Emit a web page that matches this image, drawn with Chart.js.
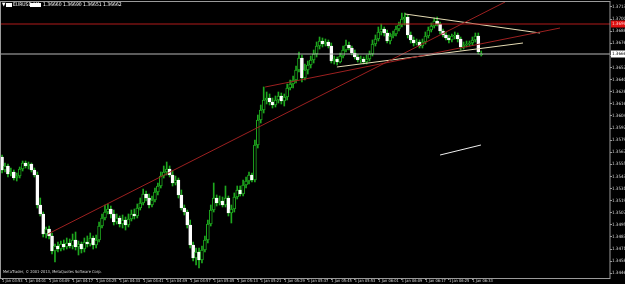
<!DOCTYPE html>
<html>
<head>
<meta charset="utf-8">
<script src="https://cdn.jsdelivr.net/npm/chart.js@4/dist/chart.umd.min.js"></script>
<style>
  html, body { margin: 0; padding: 0; background: #000; }
  #wrap { width: 625px; height: 284px; }
</style>
</head>
<body>
<div id="wrap"><canvas id="c" width="625" height="284"></canvas></div>
<script>
// ---------- DATA ----------
const SYMBOL = "EURUSD,M1";
const HEADER_QUOTES = "1.36660 1.36690 1.36651 1.36662";
const COPYRIGHT = "MetaTrader, \u00a9 2001-2013, MetaQuotes Software Corp.";

// one candle per minute, index 0 = first bar on the left
const OPEN = [
  1.3563,1.3550,1.3554,1.3546,1.3548,1.3542,1.3544,1.3551,1.3557,1.3554,
  1.3556,1.3550,1.3545,1.3515,1.3506,1.3486,1.3491,1.3484,1.3469,1.3474,
  1.3471,1.3476,1.3473,1.3477,1.3474,1.3480,1.3473,1.3476,1.3471,1.3478,
  1.3476,1.3482,1.3475,1.3480,1.3494,1.3502,1.3508,1.3511,1.3506,1.3498,
  1.3502,1.3496,1.3500,1.3495,1.3501,1.3506,1.3504,1.3512,1.3517,1.3526,
  1.3522,1.3515,1.3520,1.3528,1.3534,1.3544,1.3548,1.3551,1.3545,1.3537,
  1.3540,1.3525,1.3512,1.3508,1.3495,1.3475,1.3462,1.3468,1.3460,1.3470,
  1.3480,1.3496,1.3510,1.3522,1.3517,1.3519,1.3515,1.3522,1.3507,1.3511,
  1.3523,1.3530,1.3526,1.3535,1.3539,1.3545,1.3540,1.3575,1.3600,1.3610,
  1.3620,1.3622,1.3618,1.3615,1.3620,1.3624,1.3619,1.3623,1.3632,1.3636,
  1.3640,1.3650,1.3662,1.3642,1.3650,1.3655,1.3660,1.3666,1.3674,1.3679,
  1.3676,1.3678,1.3674,1.3659,1.3661,1.3658,1.3664,1.3670,1.3675,1.3672,
  1.3667,1.3663,1.3660,1.3661,1.3658,1.3661,1.3666,1.3676,1.3681,1.3688,
  1.3691,1.3687,1.3679,1.3684,1.3686,1.3691,1.3695,1.3701,1.3703,1.3685,
  1.3680,1.3677,1.3678,1.3674,1.3678,1.3684,1.3690,1.3694,1.3699,1.3696,
  1.3689,1.3685,1.3682,1.3680,1.3684,1.3685,1.3681,1.3673,1.3675,1.3676,
  1.3677,1.3680,1.3684,1.3665
];
const HIGH = [
  1.3565,1.3557,1.3556,1.3552,1.3550,1.3547,1.3553,1.3559,1.3559,1.3558,
  1.3557,1.3552,1.3548,1.3522,1.3508,1.3493,1.3494,1.3487,1.3476,1.3478,
  1.3479,1.3480,1.3482,1.3481,1.3486,1.3488,1.3479,1.3478,1.3482,1.3484,
  1.3487,1.3484,1.3485,1.3498,1.3506,1.3515,1.3516,1.3514,1.3510,1.3506,
  1.3504,1.3505,1.3503,1.3506,1.3510,1.3511,1.3516,1.3522,1.3531,1.3529,
  1.3526,1.3524,1.3532,1.3537,1.3548,1.3554,1.3558,1.3554,1.3549,1.3544,
  1.3542,1.3530,1.3515,1.3510,1.3500,1.3478,1.3472,1.3472,1.3474,1.3484,
  1.3500,1.3515,1.3537,1.3525,1.3524,1.3523,1.3534,1.3524,1.3515,1.3527,
  1.3534,1.3534,1.3540,1.3543,1.3548,1.3547,1.3580,1.3605,1.3615,1.3633,
  1.3628,1.3626,1.3622,1.3624,1.3628,1.3627,1.3626,1.3636,1.3640,1.3644,
  1.3654,1.3668,1.3665,1.3656,1.3659,1.3664,1.3670,1.3678,1.3683,1.3682,
  1.3681,1.3680,1.3677,1.3664,1.3663,1.3667,1.3674,1.3680,1.3678,1.3674,
  1.3670,1.3666,1.3664,1.3663,1.3665,1.3669,1.3680,1.3685,1.3693,1.3696,
  1.3693,1.3690,1.3687,1.3689,1.3694,1.3698,1.3707,1.3707,1.3705,1.3688,
  1.3683,1.3681,1.3680,1.3681,1.3688,1.3693,1.3697,1.3702,1.3703,1.3698,
  1.3691,1.3688,1.3685,1.3686,1.3688,1.3687,1.3683,1.3678,1.3679,1.3679,
  1.3683,1.3687,1.3687,1.3669
];
const LOW = [
  1.3547,1.3548,1.3543,1.3544,1.3540,1.3539,1.3542,1.3549,1.3552,1.3551,
  1.3548,1.3543,1.3512,1.3504,1.3483,1.3482,1.3481,1.3466,1.3458,1.3468,
  1.3469,1.3470,1.3471,1.3472,1.3471,1.3470,1.3465,1.3467,1.3468,1.3473,
  1.3474,1.3471,1.3472,1.3478,1.3492,1.3500,1.3506,1.3502,1.3495,1.3496,
  1.3493,1.3492,1.3490,1.3493,1.3499,1.3501,1.3502,1.3510,1.3515,1.3519,
  1.3512,1.3513,1.3518,1.3525,1.3532,1.3542,1.3545,1.3543,1.3534,1.3535,
  1.3522,1.3510,1.3505,1.3492,1.3472,1.3459,1.3455,1.3452,1.3457,1.3468,
  1.3477,1.3494,1.3508,1.3514,1.3515,1.3513,1.3513,1.3504,1.3497,1.3508,
  1.3521,1.3524,1.3524,1.3532,1.3536,1.3538,1.3538,1.3572,1.3597,1.3607,
  1.3616,1.3615,1.3612,1.3613,1.3617,1.3616,1.3614,1.3620,1.3630,1.3632,
  1.3637,1.3648,1.3638,1.3640,1.3646,1.3652,1.3657,1.3663,1.3671,1.3673,
  1.3674,1.3672,1.3657,1.3656,1.3655,1.3657,1.3662,1.3668,1.3670,1.3665,
  1.3661,1.3658,1.3657,1.3656,1.3656,1.3659,1.3664,1.3674,1.3679,1.3685,
  1.3684,1.3677,1.3676,1.3682,1.3684,1.3689,1.3693,1.3695,1.3682,1.3677,
  1.3674,1.3675,1.3672,1.3672,1.3676,1.3682,1.3688,1.3692,1.3694,1.3686,
  1.3683,1.3680,1.3677,1.3678,1.3681,1.3678,1.3670,1.3671,1.3673,1.3674,
  1.3675,1.3678,1.3666,1.3664
];
const CLOSE = [
  1.3550,1.3554,1.3546,1.3548,1.3542,1.3544,1.3551,1.3557,1.3554,1.3556,
  1.3550,1.3545,1.3515,1.3506,1.3486,1.3491,1.3484,1.3469,1.3474,1.3471,
  1.3476,1.3473,1.3477,1.3474,1.3480,1.3473,1.3476,1.3471,1.3478,1.3476,
  1.3482,1.3475,1.3480,1.3494,1.3502,1.3508,1.3511,1.3506,1.3498,1.3502,
  1.3496,1.3500,1.3495,1.3501,1.3506,1.3504,1.3512,1.3517,1.3526,1.3522,
  1.3515,1.3520,1.3528,1.3534,1.3544,1.3548,1.3551,1.3545,1.3537,1.3540,
  1.3525,1.3512,1.3508,1.3495,1.3475,1.3462,1.3468,1.3460,1.3470,1.3480,
  1.3496,1.3510,1.3522,1.3517,1.3519,1.3515,1.3522,1.3507,1.3511,1.3523,
  1.3530,1.3526,1.3535,1.3539,1.3545,1.3540,1.3575,1.3600,1.3610,1.3620,
  1.3622,1.3618,1.3615,1.3620,1.3624,1.3619,1.3623,1.3632,1.3636,1.3640,
  1.3650,1.3662,1.3642,1.3650,1.3655,1.3660,1.3666,1.3674,1.3679,1.3676,
  1.3678,1.3674,1.3659,1.3661,1.3658,1.3664,1.3670,1.3675,1.3672,1.3667,
  1.3663,1.3660,1.3661,1.3658,1.3661,1.3666,1.3676,1.3681,1.3688,1.3691,
  1.3687,1.3679,1.3684,1.3686,1.3691,1.3695,1.3701,1.3703,1.3685,1.3680,
  1.3677,1.3678,1.3674,1.3678,1.3684,1.3690,1.3694,1.3699,1.3696,1.3689,
  1.3685,1.3682,1.3680,1.3684,1.3685,1.3681,1.3673,1.3675,1.3676,1.3677,
  1.3680,1.3684,1.3668,1.3666
];

// time axis: label every 8 bars
const TIME_TICK_BARS = [0,8,16,24,32,40,48,56,64,72,80,88,96,104,112,120,128,136,144,152,160];
const TIME_TICKS = [
  "1 Jan 03:53","1 Jan 04:01","1 Jan 04:09","1 Jan 04:17","1 Jan 04:25","1 Jan 04:33",
  "1 Jan 04:41","1 Jan 04:49","1 Jan 04:57","1 Jan 05:05","1 Jan 05:13","1 Jan 05:21",
  "1 Jan 05:29","1 Jan 05:37","1 Jan 05:45","1 Jan 05:53","1 Jan 06:01","1 Jan 06:09",
  "1 Jan 06:17","1 Jan 06:25","1 Jan 06:33"
];
const PRICE_TICKS = [
  1.37130,1.37009,1.36888,1.36767,1.36646,1.36525,1.36404,1.36283,1.36162,1.36041,
  1.35920,1.35799,1.35678,1.35557,1.35436,1.35315,1.35194,1.35073,1.34952,1.34831,
  1.34710,1.34589,1.34468
];

const BID_PRICE = 1.3666;     // current price line
const LEVEL_PRICE = 1.3696;   // red horizontal level

// trendlines: [bar, price] pairs
const TREND_RED_LONG = [[15.6, 1.3486], [171.1, 1.3718]];
const TREND_RED_SHORT = [[89.5, 1.3633], [189.8, 1.3692]];
const TREND_SUPPORT = [[113.9, 1.3653], [177.2, 1.3677]];
const TREND_TOP = [[137.1, 1.3706], [183.0, 1.3687]];
const TREND_SMALL = [[149.0, 1.3565], [162.9, 1.3575]];

// ---------- CHART ----------
const X_MIN = -0.7, X_MAX = 206.8;
const Y_MIN = 1.3442, Y_MAX = 1.3718;

const GREEN = "#1ea81e";
const bull = (i) => CLOSE[i] >= OPEN[i];

const wickData = OPEN.map((o, i) => ({ x: i, y: [LOW[i], HIGH[i]] }));
const bodyData = OPEN.map((o, i) => ({ x: i, y: [o, CLOSE[i]] }));

function seg(pts) { return pts.map(p => ({ x: p[0], y: p[1] })); }
function lineDs(pts, color, width) {
  return {
    type: "line", data: seg(pts), borderColor: color, borderWidth: width || 1,
    pointRadius: 0, fill: false, order: 0, clip: 0
  };
}

const FONT = "'Liberation Sans Narrow', 'DejaVu Sans Condensed', sans-serif";

const overlay = {
  id: "overlay",
  beforeDraw(chart) {
    const ctx = chart.ctx;
    ctx.save();
    ctx.fillStyle = "#000";
    ctx.fillRect(0, 0, chart.width, chart.height);
    ctx.restore();
  },
  afterDraw(chart) {
    const ctx = chart.ctx;
    const a = chart.chartArea;
    const y = chart.scales.y;
    ctx.save();
    // frame
    ctx.strokeStyle = "#9a9a9a";
    ctx.lineWidth = 1;
    ctx.strokeRect(0.5, a.top - 0.5, a.right - 0.5, a.bottom - a.top + 1);

    // header
    ctx.font = "5px " + FONT;
    ctx.textBaseline = "middle";
    ctx.fillStyle = "#fff";
    ctx.fillText("\u25bc", 2, 5);
    ctx.fillRect(6, 3, 6, 4);
    ctx.fillText(SYMBOL, 13, 5);
    ctx.fillRect(30, 3, 11, 4);
    ctx.fillText(HEADER_QUOTES, 43, 5);

    // copyright
    ctx.font = "4px " + FONT;
    ctx.fillStyle = "#d8d8d8";
    ctx.fillText(COPYRIGHT, 3, 272);

    // price boxes on the axis
    ctx.font = "4.5px " + FONT;
    const lv = y.getPixelForValue(LEVEL_PRICE);
    ctx.fillStyle = "#e01010";
    ctx.fillRect(a.right + 1, lv - 3.5, 14, 7);
    ctx.fillStyle = "#ffd0d0";
    ctx.fillText(LEVEL_PRICE.toFixed(5), a.right + 2, lv);
    const bp = y.getPixelForValue(BID_PRICE);
    ctx.fillStyle = "#ffffff";
    ctx.fillRect(a.right + 1, bp - 3.5, 14, 7);
    ctx.fillStyle = "#000";
    ctx.fillText(BID_PRICE.toFixed(5), a.right + 2, bp);
    ctx.restore();
  }
};

new Chart(document.getElementById("c"), {
  type: "bar",
  data: {
    datasets: [
      lineDs([[X_MIN, LEVEL_PRICE], [X_MAX, LEVEL_PRICE]], "#b01a1a"),
      lineDs([[X_MIN, BID_PRICE], [X_MAX, BID_PRICE]], "#b8b8b8"),
      lineDs(TREND_RED_LONG, "#9c2020"),
      lineDs(TREND_RED_SHORT, "#9c2020"),
      lineDs(TREND_SUPPORT, "#e6dcb4"),
      lineDs(TREND_TOP, "#e6dcb4"),
      lineDs(TREND_SMALL, "#f0f0f0"),
      {
        data: bodyData, grouped: false, order: 1, barThickness: 3,
        backgroundColor: OPEN.map((o, i) => bull(i) ? "#000" : "#ffffff"),
        borderColor: OPEN.map((o, i) => bull(i) ? GREEN : "#ffffff"),
        borderWidth: 1, borderSkipped: false, minBarLength: 1
      },
      {
        data: wickData, grouped: false, order: 2, barThickness: 1,
        backgroundColor: GREEN, borderWidth: 0, borderSkipped: false
      }
    ]
  },
  options: {
    responsive: false,
    animation: false,
    devicePixelRatio: 1,
    layout: { padding: { top: 2, left: 0, right: 0, bottom: 0 } },
    plugins: { legend: { display: false }, tooltip: { enabled: false } },
    scales: {
      x: {
        type: "linear", min: X_MIN, max: X_MAX, offset: false,
        grid: { display: true, drawOnChartArea: false, drawTicks: true, tickLength: 2, color: "#9a9a9a", offset: false },
        border: { display: false },
        afterBuildTicks: (s) => { s.ticks = TIME_TICK_BARS.map(v => ({ value: v })); },
        ticks: {
          autoSkip: false, maxRotation: 0, align: "start", padding: -1, color: "#d8d8d8",
          font: { size: 4, family: FONT },
          callback: (v, i) => TIME_TICKS[i]
        },
        afterFit: (s) => { s.height = 6; s.paddingLeft = 0; s.paddingRight = 0; }
      },
      y: {
        type: "linear", position: "right", min: Y_MIN, max: Y_MAX,
        grid: { display: true, drawOnChartArea: false, drawTicks: true, tickLength: 2, color: "#9a9a9a" },
        border: { display: false },
        afterBuildTicks: (s) => { s.ticks = PRICE_TICKS.map(v => ({ value: v })); },
        ticks: {
          autoSkip: false, padding: 0, color: "#d8d8d8",
          font: { size: 4.5, family: FONT },
          callback: (v) => v.toFixed(5)
        },
        afterFit: (s) => { s.width = 15; s.paddingTop = 0; s.paddingBottom = 0; }
      }
    }
  },
  plugins: [overlay]
});
</script>
</body>
</html>
